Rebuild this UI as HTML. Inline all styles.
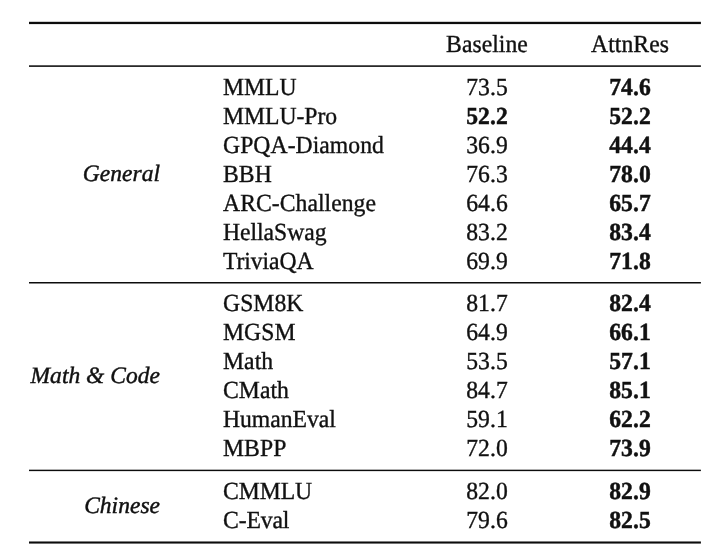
<!DOCTYPE html>
<html><head><meta charset="utf-8"><title>Table</title>
<style>
html,body{margin:0;padding:0;background:#fff;}
body{width:725px;height:559px;position:relative;overflow:hidden;font-family:"Liberation Serif",serif;color:#111;}
#w{position:absolute;left:0;top:0;width:725px;height:559px;overflow:hidden;will-change:transform;}
.t{position:absolute;width:6000px;height:600px;font-size:475.0px;line-height:600px;white-space:nowrap;-webkit-text-stroke:7.20px #111;text-rendering:geometricPrecision;transform-origin:0 0;transform:scale(0.0500,0.05150);}
.b{font-weight:bold;-webkit-text-stroke-width:9.00px;}
.i{font-style:italic;font-size:471.0px;-webkit-text-stroke-width:9.00px;transform:scale(0.0500,0.05000);}
.rules{position:absolute;left:0;top:0;}
.g{position:absolute;left:0;top:0;width:725px;height:559px;}
</style></head><body><div id="w">
<svg class="rules" width="725" height="559" viewBox="0 0 725 559"><rect x="29.0" y="21.800" width="671.90" height="2.30" fill="#0c0c0c"/><rect x="29.0" y="65.325" width="671.90" height="1.55" fill="#0c0c0c"/><rect x="29.0" y="282.000" width="671.90" height="1.50" fill="#0c0c0c"/><rect x="29.0" y="469.675" width="671.90" height="1.45" fill="#0c0c0c"/><rect x="29.0" y="541.470" width="671.90" height="2.10" fill="#0c0c0c"/></svg>
<div class="t" style="top:28.31px;left:336.80px;text-align:center">Baseline</div>
<div class="t" style="top:28.31px;left:480.40px;text-align:center">AttnRes</div>
<div class="t" style="top:71.31px;left:222.70px;text-align:left;letter-spacing:-2.40px">MMLU</div>
<div class="t" style="top:71.31px;left:336.80px;text-align:center">73.5</div>
<div class="t b" style="top:71.31px;left:480.40px;text-align:center">74.6</div>
<div class="t" style="top:100.31px;left:222.70px;text-align:left;letter-spacing:-2.00px">MMLU-Pro</div>
<div class="t b" style="top:100.31px;left:336.80px;text-align:center">52.2</div>
<div class="t b" style="top:100.31px;left:480.40px;text-align:center">52.2</div>
<div class="t" style="top:129.31px;left:222.70px;text-align:left">GPQA-Diamond</div>
<div class="t" style="top:129.31px;left:336.80px;text-align:center">36.9</div>
<div class="t b" style="top:129.31px;left:480.40px;text-align:center">44.4</div>
<div class="t" style="top:158.31px;left:222.70px;text-align:left">BBH</div>
<div class="t" style="top:158.31px;left:336.80px;text-align:center">76.3</div>
<div class="t b" style="top:158.31px;left:480.40px;text-align:center">78.0</div>
<div class="t" style="top:187.31px;left:222.70px;text-align:left">ARC-Challenge</div>
<div class="t" style="top:187.31px;left:336.80px;text-align:center">64.6</div>
<div class="t b" style="top:187.31px;left:480.40px;text-align:center">65.7</div>
<div class="t" style="top:216.31px;left:222.70px;text-align:left;letter-spacing:-1.40px">HellaSwag</div>
<div class="t" style="top:216.31px;left:336.80px;text-align:center">83.2</div>
<div class="t b" style="top:216.31px;left:480.40px;text-align:center">83.4</div>
<div class="t" style="top:245.31px;left:222.70px;text-align:left;letter-spacing:-2.60px">TriviaQA</div>
<div class="t" style="top:245.31px;left:336.80px;text-align:center">69.9</div>
<div class="t b" style="top:245.31px;left:480.40px;text-align:center">71.8</div>
<div class="t i" style="top:158.05px;left:-140.40px;text-align:right">General</div>
<div class="t" style="top:287.31px;left:222.70px;text-align:left">GSM8K</div>
<div class="t" style="top:287.31px;left:336.80px;text-align:center">81.7</div>
<div class="t b" style="top:287.31px;left:480.40px;text-align:center">82.4</div>
<div class="t" style="top:316.31px;left:222.70px;text-align:left">MGSM</div>
<div class="t" style="top:316.31px;left:336.80px;text-align:center">64.9</div>
<div class="t b" style="top:316.31px;left:480.40px;text-align:center">66.1</div>
<div class="t" style="top:345.31px;left:222.70px;text-align:left">Math</div>
<div class="t" style="top:345.31px;left:336.80px;text-align:center">53.5</div>
<div class="t b" style="top:345.31px;left:480.40px;text-align:center">57.1</div>
<div class="t" style="top:374.31px;left:222.70px;text-align:left">CMath</div>
<div class="t" style="top:374.31px;left:336.80px;text-align:center">84.7</div>
<div class="t b" style="top:374.31px;left:480.40px;text-align:center">85.1</div>
<div class="t" style="top:403.31px;left:222.70px;text-align:left;letter-spacing:-1.60px">HumanEval</div>
<div class="t" style="top:403.31px;left:336.80px;text-align:center">59.1</div>
<div class="t b" style="top:403.31px;left:480.40px;text-align:center">62.2</div>
<div class="t" style="top:432.31px;left:222.70px;text-align:left">MBPP</div>
<div class="t" style="top:432.31px;left:336.80px;text-align:center">72.0</div>
<div class="t b" style="top:432.31px;left:480.40px;text-align:center">73.9</div>
<div class="t i" style="top:360.05px;left:-140.40px;text-align:right">Math &amp; Code</div>
<div class="t" style="top:475.31px;left:222.70px;text-align:left;letter-spacing:-3.00px">CMMLU</div>
<div class="t" style="top:475.31px;left:336.80px;text-align:center">82.0</div>
<div class="t b" style="top:475.31px;left:480.40px;text-align:center">82.9</div>
<div class="t" style="top:504.31px;left:222.70px;text-align:left;letter-spacing:-3.40px">C-Eval</div>
<div class="t" style="top:504.31px;left:336.80px;text-align:center">79.6</div>
<div class="t b" style="top:504.31px;left:480.40px;text-align:center">82.5</div>
<div class="t i" style="top:490.05px;left:-140.40px;text-align:right">Chinese</div>
</div></body></html>
